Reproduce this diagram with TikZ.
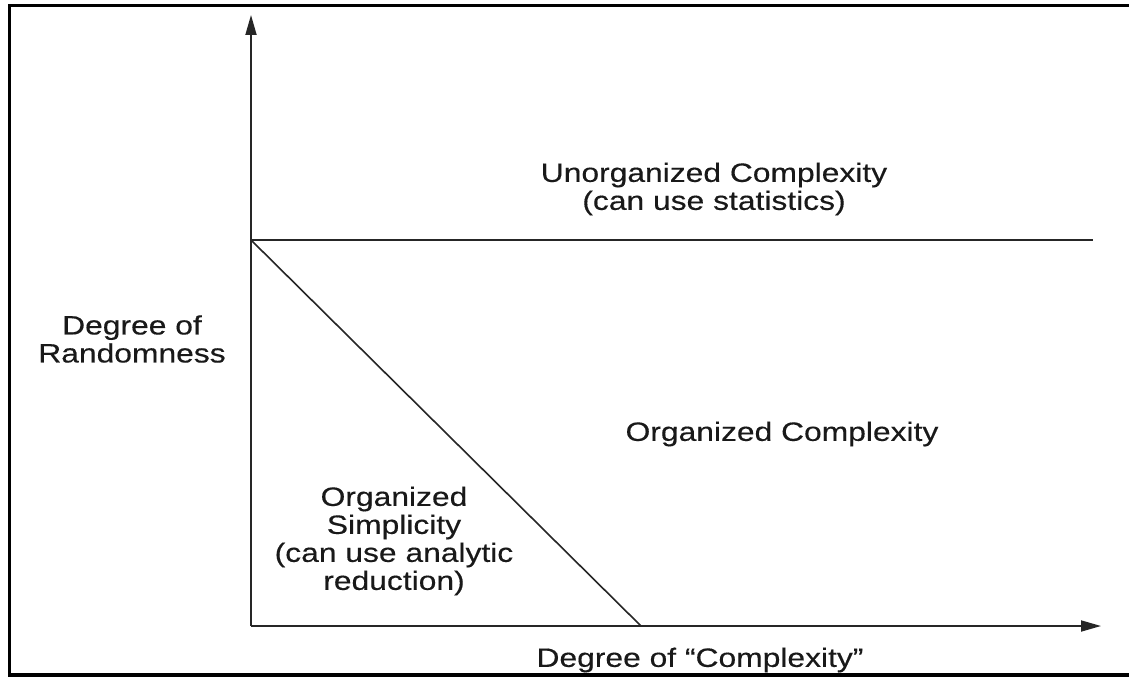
\documentclass[tikz,border=0pt]{standalone}
\usepackage{fontspec}
\setmainfont{Liberation Sans}[FakeStretch=1.2,FakeBold=0.3]
\usetikzlibrary{arrows.meta}
\begin{document}
\begin{tikzpicture}[x=1pt,y=-1pt,
  frame/.style={line width=3.5pt,black},
  axis/.style={line width=1.8pt,draw=black!85,-{Triangle[length=20pt,width=11pt]}},
  divider/.style={line width=1.6pt,draw=black!85},
  lbl/.style={inner sep=0pt,align=center,font=\fontsize{26.5}{28}\selectfont,text=black!90}]
\useasboundingbox (0,0) rectangle (1129,677);
\fill[white] (0,0) rectangle (1129,677);
% page frame
\coordinate (fTL) at (9.5,5.5);
\coordinate (fTR) at (1129,5.5);
\coordinate (fBL) at (9.5,675);
\coordinate (fBR) at (1129,675);
\draw[frame] (fTR) -- (fTL) -- (fBL) -- (fBR);
% axes
\coordinate (O) at (251,626);
\coordinate (ytip) at (251,15);
\coordinate (xtip) at (1101,626);
\coordinate (P) at (251,240);
\coordinate (Pend) at (1093,240);
\coordinate (Q) at (641,626);
\draw[axis] (O) -- (ytip);
\draw[axis] (O) -- (xtip);
\draw[divider] (P) -- (Pend);
\draw[divider] (P) -- (Q);
% labels
\node[lbl] (unorg) at (714,189) {Unorganized Complexity\\(can use statistics)};
\node[lbl] (yl) at (132,339) {Degree of\\Randomness};
\node[lbl] (orgc) at (782,434) {Organized Complexity};
\node[lbl] (orgs) at (394,541) {Organized\\Simplicity\\(can use analytic\\reduction)};
\node[lbl] (xl) at (700,660) {Degree of “Complexity”};
\end{tikzpicture}
\end{document}
